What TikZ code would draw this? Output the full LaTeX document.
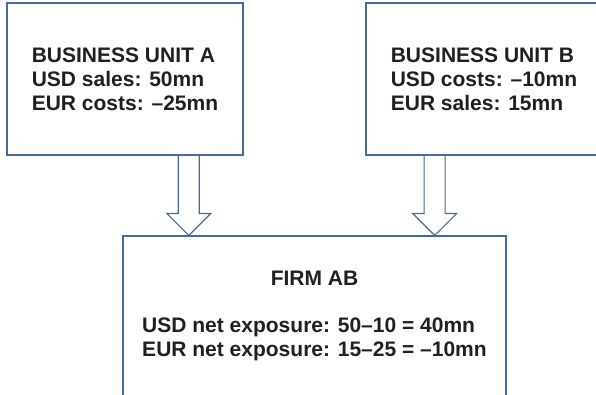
\documentclass[tikz,border=0pt]{standalone}
\usepackage{fontspec}
\setmainfont{Liberation Sans}
\usetikzlibrary{calc}
\definecolor{line_blue}{RGB}{72,104,164}
\definecolor{text_gray}{RGB}{35,31,32}

\newcommand{\fatarrow}[2]{%
  \draw[fat] ($(#1)+(-10.5,0)$) -- ($(#2)+(-10.5,-22)$) -- ($(#2)+(-22,-22)$)
    -- (#2) -- ($(#2)+(22,-22)$) -- ($(#2)+(10.5,-22)$) -- ($(#1)+(10.5,0)$);}

\begin{document}
\begin{tikzpicture}[x=1pt,y=-1pt]
    \tikzstyle{unit}=[draw=line_blue, line width=1.1pt, rectangle, text=text_gray,
      font=\fontsize{21}{24}\selectfont\bfseries, align=left, inner sep=0pt]
    \tikzstyle{fat}=[draw=line_blue, line width=1.1pt, line join=miter]

    \useasboundingbox (0,0) rectangle (596,394);

    \node[unit, minimum width=236, minimum height=152] (ua) at (125,79)
      {BUSINESS UNIT A\\USD sales: 50mn\\EUR costs: –25mn};
    \node[unit, minimum width=236, minimum height=152] (ub) at (484,79)
      {BUSINESS UNIT B\\USD costs: –10mn\\EUR sales: 15mn};
    \node[unit, minimum width=383, minimum height=160.5] (ab) at (314.5,316.25)
      {\begin{tabular}{@{}l@{}}
        \multicolumn{1}{@{}c@{}}{FIRM AB}\\[23pt]
        USD net exposure: 50–10 = 40mn\\
        EUR net exposure: 15–25 = –10mn
       \end{tabular}};

    \coordinate (a_out) at ($(ua.south west)!0.769!(ua.south east)$);
    \coordinate (a_in)  at (a_out |- ab.north);
    \coordinate (b_out) at ($(ub.south west)!0.292!(ub.south east)$);
    \coordinate (b_in)  at (b_out |- ab.north);

    \fatarrow{a_out}{a_in}
    \fatarrow{b_out}{b_in}
\end{tikzpicture}
\end{document}
